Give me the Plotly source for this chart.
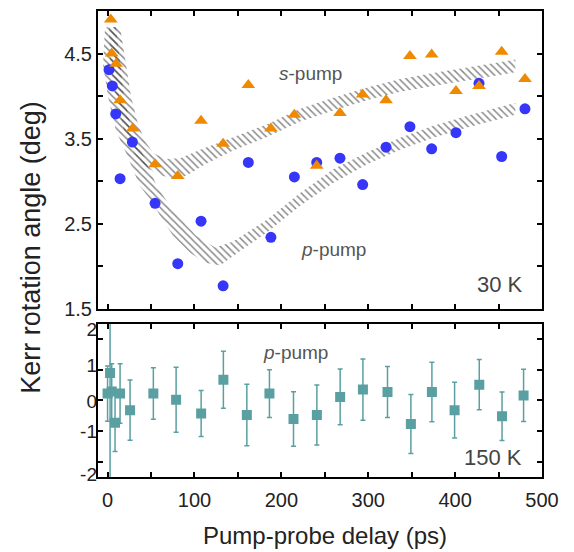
import plotly.graph_objects as go

# ---------------- data: 30 K panel ----------------
p_pump_delay = [1.7, 5.5, 9.4, 14.4, 28.6, 54.7, 80.8, 107.6, 133, 162, 188, 215,
                240.7, 267.5, 293.6, 320.5, 348, 373, 401, 427.5, 453.6, 480.4]
p_pump_kerr = [4.31, 4.12, 3.79, 3.03, 3.46, 2.74, 2.03, 2.53, 1.77, 3.22, 2.34, 3.05,
               3.22, 3.27, 2.96, 3.40, 3.64, 3.38, 3.57, 4.15, 3.29, 3.85]

s_pump_delay = [3.7, 4.8, 9.8, 14.4, 29.0, 54.7, 80.8, 107.6, 133, 162, 188, 215,
                240.7, 267.5, 293.6, 320.5, 348, 373, 401, 427.5, 453.6, 480.4]
s_pump_kerr = [4.90, 4.50, 4.38, 3.95, 3.62, 3.20, 3.06, 3.71, 3.44, 4.13, 3.62, 3.78,
               3.18, 3.80, 4.02, 3.95, 4.47, 4.49, 4.06, 4.12, 4.52, 4.20]

# hatched guide-to-the-eye bands (edges)
s_band_lower_x = [1.7, 2.9, 9.8, 19.0, 30.5, 44.3, 60.5, 81.2, 95.0, 112.3, 144.5, 183.7,
                  221.7, 259.7, 298.8, 336.8, 374.8, 414.0, 469.3]
s_band_lower_y = [4.81, 4.37, 3.99, 3.59, 3.33, 3.17, 3.07, 3.02, 3.09, 3.20, 3.36, 3.52,
                  3.70, 3.83, 3.95, 4.05, 4.12, 4.19, 4.28]
s_band_upper_x = [469.3, 414.0, 374.8, 336.8, 298.8, 259.7, 221.7, 183.7, 144.5, 106.5,
                  83.5, 66.2, 52.4, 43.2, 35.1, 27.1, 21.3, 14.4]
s_band_upper_y = [4.43, 4.34, 4.27, 4.20, 4.10, 3.98, 3.85, 3.67, 3.52, 3.37,
                  3.27, 3.26, 3.33, 3.47, 3.67, 3.99, 4.37, 4.81]

p_band_lower_x = [-2.9, -5.2, 0.6, 9.8, 21.3, 37.4, 52.4, 62.8, 75.4, 95.0, 112.3, 129.6,
                  144.5, 183.7, 221.7, 259.7, 298.8, 336.8, 374.8, 414.0, 469.3]
p_band_lower_y = [4.81, 4.37, 3.99, 3.59, 3.33, 2.94, 2.74, 2.55, 2.36, 2.16, 2.04, 2.01,
                  2.12, 2.40, 2.71, 2.98, 3.20, 3.37, 3.51, 3.63, 3.78]
p_band_upper_x = [469.3, 414.0, 374.8, 336.8, 298.8, 259.7, 221.7, 183.7, 144.5, 123.8,
                  101.9, 84.6, 69.7, 57.0, 39.7, 28.2, 19.0, 14.4, 9.8]
p_band_upper_y = [3.92, 3.77, 3.65, 3.51, 3.34, 3.14, 2.86, 2.55, 2.29, 2.22,
                  2.36, 2.55, 2.74, 2.94, 3.33, 3.59, 3.99, 4.37, 4.81]

# ---------------- data: 150 K panel ----------------
delay_150K = [0, 2.9, 4.8, 8.6, 14.4, 25.9, 52.7, 78.9, 107.7, 133.3, 160.3, 186.3, 214,
              240.9, 267.7, 293.9, 322.2, 349.1, 373.3, 399.4, 427.8, 454, 478.8]
kerr_150K = [0.22, 0.89, 0.29, -0.73, 0.22, -0.32, 0.22, 0.02, -0.43, 0.67, -0.48, 0.22, -0.61,
             -0.48, 0.11, 0.35, 0.27, -0.77, 0.27, -0.32, 0.51, -0.52, 0.16]
err_150K = [0.9, 3.6, 0.9, 0.94, 0.97, 0.98, 0.84, 1.06, 0.75, 0.93, 1.0, 0.78, 0.89,
            0.98, 0.91, 1.0, 0.83, 0.96, 0.97, 0.91, 0.82, 0.79, 0.85]

# tick labels
x_tickvals = [0, 50, 100, 150, 200, 250, 300, 350, 400, 450, 500]
x_ticktext = ["0", "", "100", "", "200", "", "300", "", "400", "", "500"]
y1_tickvals = [1.5, 2.0, 2.5, 3.0, 3.5, 4.0, 4.5]
y1_ticktext = ["1.5", "", "2.5", "", "3.5", "", "4.5"]
y2_tickvals = [-2, -1, 0, 1, 2]
y2_label_pos = [2.32, 1.13, -0.03, -1.0, -2.42]
y2_label_text = ["2", "1", "0", "-1", "-2"]

BLUE = "#3636F8"
ORANGE = "#EF8A00"
TEAL = "#5A9FA1"
HATCH = "#1a1a1a"
FONT = "Liberation Sans, Arial, Helvetica, sans-serif"

fig = go.Figure()

for lx, ly, ux, uy in [(s_band_lower_x, s_band_lower_y, s_band_upper_x, s_band_upper_y),
                       (p_band_lower_x, p_band_lower_y, p_band_upper_x, p_band_upper_y)]:
    fig.add_trace(go.Scatter(
        x=lx + ux, y=ly + uy, mode="lines", fill="toself",
        line=dict(width=0, color="rgba(0,0,0,0)"),
        fillcolor="rgba(0,0,0,0)",
        fillpattern=dict(shape="\\", size=5, solidity=0.3, fgcolor=HATCH,
                         bgcolor="rgba(255,255,255,0)"),
        xaxis="x", yaxis="y", showlegend=False, hoverinfo="skip"))

fig.add_trace(go.Scatter(x=p_pump_delay, y=p_pump_kerr, mode="markers",
                         marker=dict(symbol="circle", size=11, color=BLUE),
                         xaxis="x", yaxis="y", showlegend=False))
fig.add_trace(go.Scatter(x=s_pump_delay, y=s_pump_kerr, mode="markers",
                         marker=dict(symbol="triangle-up", size=12, color=ORANGE),
                         xaxis="x", yaxis="y", showlegend=False))

fig.add_trace(go.Scatter(x=delay_150K, y=kerr_150K, mode="markers",
                         marker=dict(symbol="square", size=10, color=TEAL),
                         error_y=dict(type="data", array=err_150K, visible=True,
                                      color=TEAL, thickness=1.5, width=2.5),
                         xaxis="x2", yaxis="y2", showlegend=False))
fig.add_trace(go.Scatter(x=[None], y=[None], xaxis="x2", yaxis="y3",
                         showlegend=False, hoverinfo="skip"))

axis_common = dict(showline=True, linecolor="black", linewidth=2, mirror="ticks",
                   ticks="inside", ticklen=5, tickwidth=1.5, tickcolor="black",
                   showgrid=False, zeroline=False,
                   tickfont=dict(family=FONT, size=20, color="#222"))

top_dom = [0.3609, 1.0]
bot_dom = [0.0, 0.3291]

fig.update_layout(
    width=574, height=552,
    margin=dict(l=98, r=32, t=6, b=75),
    paper_bgcolor="white", plot_bgcolor="white",
    font=dict(family=FONT, color="#333"),
    xaxis=dict(axis_common, domain=[0, 1], range=[-11, 500], anchor="y",
               tickvals=x_tickvals, showticklabels=False),
    yaxis=dict(axis_common, domain=top_dom, range=[1.5, 5.0], anchor="x",
               tickvals=y1_tickvals, ticktext=y1_ticktext),
    xaxis2=dict(axis_common, domain=[0, 1], range=[-11, 500], anchor="y2",
                tickvals=x_tickvals, ticktext=x_ticktext, ticklabelstandoff=4),
    yaxis2=dict(axis_common, domain=bot_dom, range=[-2.5, 2.5], anchor="x2",
                tickvals=y2_tickvals, showticklabels=False),
    yaxis3=dict(overlaying="y2", anchor="x2", side="left", range=[-2.5, 2.5],
                tickvals=y2_label_pos, ticktext=y2_label_text, ticks="",
                showline=False, showgrid=False, zeroline=False,
                tickfont=dict(family=FONT, size=19, color="#222")),
)

ann_font = dict(family=FONT, size=19, color="#555")
fig.add_annotation(text="<i>s</i>-pump", x=234, y=4.27, xref="x", yref="y",
                   showarrow=False, font=ann_font)
fig.add_annotation(text="<i>p</i>-pump", x=260, y=2.20, xref="x", yref="y",
                   showarrow=False, font=ann_font)
fig.add_annotation(text="30 K", x=481, y=1.79, xref="x", yref="y", xanchor="right",
                   showarrow=False, font=dict(family=FONT, size=22, color="#444"))
fig.add_annotation(text="<i>p</i>-pump", x=216, y=1.55, xref="x2", yref="y2",
                   showarrow=False, font=ann_font)
fig.add_annotation(text="150 K", x=479, y=-1.85, xref="x2", yref="y2", xanchor="right",
                   showarrow=False, font=dict(family=FONT, size=22, color="#444"))

fig.add_annotation(text="Kerr rotation angle (deg)", x=-0.150, y=0.4926,
                   xref="paper", yref="paper", xanchor="center", yanchor="middle",
                   textangle=-90, showarrow=False,
                   font=dict(family=FONT, size=27, color="#222"))
fig.add_annotation(text="Pump-probe delay (ps)", x=0.512, y=-0.125,
                   xref="paper", yref="paper", xanchor="center", yanchor="middle",
                   showarrow=False,
                   font=dict(family=FONT, size=24, color="#222"))

fig.write_html("out.html", config={"displayModeBar": False},
               post_script="document.body.style.margin='0px';")
